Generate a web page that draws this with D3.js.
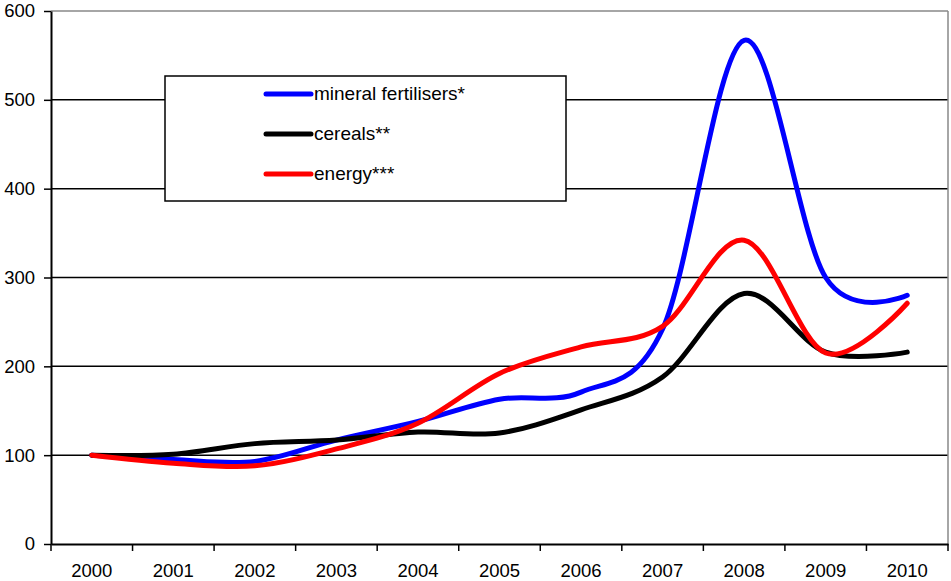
<!DOCTYPE html>
<html><head><meta charset="utf-8">
<script src="https://cdn.jsdelivr.net/npm/d3@7"></script>
<style>body{margin:0;background:#fff}svg{display:block;font-family:"Liberation Sans",Arial,sans-serif}</style>
</head><body><svg id="c" width="951" height="581"></svg>
<script>
const years = ["2000","2001","2002","2003","2004","2005","2006","2007","2008","2009","2010"];
const fertilisers = [100, 95, 93, 117, 138, 163, 171, 242, 567, 300, 280];
const cereals = [100, 101, 113, 117, 126, 125, 151, 188, 282, 216, 216];
const energy = [100, 91, 88, 107, 136, 192, 222, 245, 342, 215, 271];
const yTicks = [0, 100, 200, 300, 400, 500, 600];
const seriesNames = ["mineral fertilisers*", "cereals**", "energy***"];
const seriesColors = ["#0000ff", "#000000", "#ff0000"];

const svg = d3.select("#c");
const L = 51, R = 948, T = 11, B = 544;
const x = d3.scaleBand().domain(years).range([L, R]);
const y = d3.scaleLinear().domain([0, 600]).range([B, T]);

// gridlines
svg.append("g").selectAll("line").data(yTicks.filter(v => v > 0 && v < 600)).join("line")
  .attr("x1", L).attr("x2", R).attr("y1", d => y(d)).attr("y2", d => y(d))
  .attr("stroke", "#000").attr("stroke-width", 1.5);
// top & right border
svg.append("line").attr("x1", L).attr("x2", R).attr("y1", y(600)).attr("y2", y(600)).attr("stroke", "#888").attr("stroke-width", 1.5);
svg.append("line").attr("x1", R).attr("x2", R).attr("y1", T).attr("y2", B).attr("stroke", "#888").attr("stroke-width", 1.5);

// y axis
const ya = svg.append("g").attr("transform", `translate(${L},0)`)
  .call(d3.axisLeft(y).tickValues(yTicks).tickSize(7).tickPadding(9).tickSizeOuter(0));
ya.select(".domain").attr("stroke-width", 2);
ya.selectAll(".tick line").attr("stroke-width", 1.5);
ya.selectAll("text").attr("font-size", 18.5).attr("font-family", "Liberation Sans, Arial, sans-serif").attr("fill", "#000");

// x axis
const xa = svg.append("g").attr("transform", `translate(0,${B})`)
  .call(d3.axisBottom(x).tickSize(0).tickPadding(20).tickSizeOuter(0));
xa.select(".domain").attr("stroke-width", 2);
xa.selectAll("text").attr("font-size", 18.5).attr("font-family", "Liberation Sans, Arial, sans-serif").attr("fill", "#000");
const edges = years.map(d => x(d)).concat([x(years[years.length-1]) + x.bandwidth()]);
svg.append("g").selectAll("line").data(edges).join("line")
  .attr("x1", d => d).attr("x2", d => d).attr("y1", B).attr("y2", B + 7)
  .attr("stroke", "#000").attr("stroke-width", 1.5);

// legend box
const lg = svg.append("g");
lg.append("rect").attr("x", 165).attr("y", 76).attr("width", 401).attr("height", 125)
  .attr("fill", "#fff").attr("stroke", "#000").attr("stroke-width", 1.5);

// lines
const data = [fertilisers, cereals, energy];
const line = d3.line().x((d, i) => x(years[i]) + x.bandwidth() / 2).y(d => y(d)).curve(d3.curveCardinal.tension(0));
svg.append("g").selectAll("path").data(data).join("path")
  .attr("d", line).attr("fill", "none")
  .attr("stroke", (d, i) => seriesColors[i]).attr("stroke-width", 5)
  .attr("stroke-linecap", "round").attr("stroke-linejoin", "round");

// legend items
seriesNames.forEach((n, i) => {
  const yy = 94 + i * 40;
  lg.append("line").attr("x1", 266).attr("x2", 311).attr("y1", yy).attr("y2", yy)
    .attr("stroke", seriesColors[i]).attr("stroke-width", 5).attr("stroke-linecap", "round");
  lg.append("text").attr("x", 314).attr("y", yy + 6).attr("font-size", 19).attr("fill", "#000").text(n);
});
</script></body></html>
